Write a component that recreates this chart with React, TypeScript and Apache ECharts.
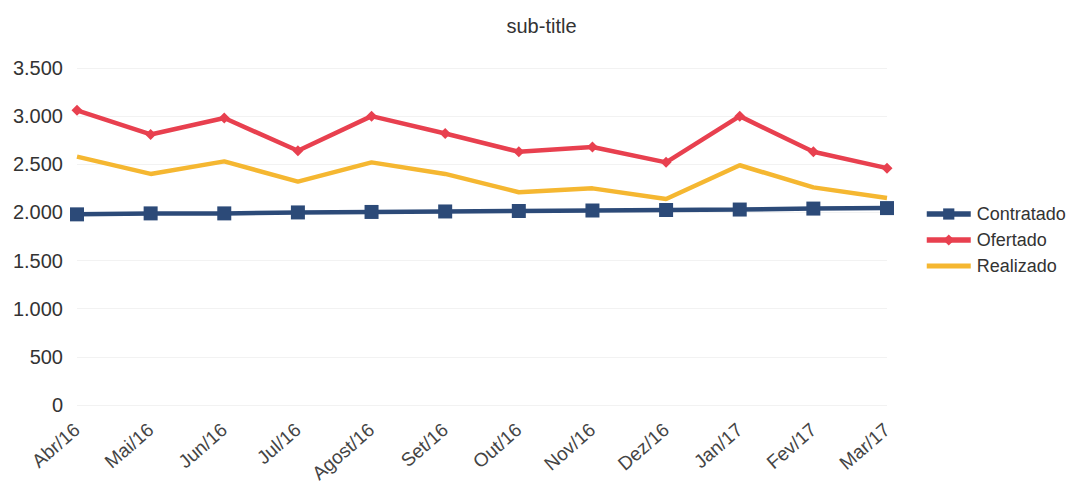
import React, { useEffect, useRef } from "react";
import * as echarts from "echarts";

const categories = ["Abr/16", "Mai/16", "Jun/16", "Jul/16", "Agost/16", "Set/16", "Out/16", "Nov/16", "Dez/16", "Jan/17", "Fev/17", "Mar/17"];
const contratado = [1980, 1990, 1990, 2000, 2005, 2010, 2015, 2020, 2025, 2030, 2040, 2045];
const ofertado = [3060, 2810, 2980, 2640, 3000, 2820, 2630, 2680, 2520, 3000, 2630, 2460];
const realizado = [2580, 2400, 2530, 2320, 2520, 2400, 2210, 2250, 2140, 2490, 2260, 2150];

const font = "'Liberation Sans', Arial, Helvetica, sans-serif";

export default function App() {
  const ref = useRef<HTMLDivElement>(null);
  useEffect(() => {
    document.body.style.margin = "0";
    const chart = echarts.init(ref.current!, undefined, { renderer: "svg" });
    chart.setOption({
      animation: false,
      backgroundColor: "#ffffff",
      textStyle: { fontFamily: font },
      title: {
        text: "sub-title",
        left: "center",
        top: 11,
        textStyle: { fontSize: 20, fontWeight: "normal", color: "#333", fontFamily: font },
      },
      grid: { left: 77, right: 196, top: 68, bottom: 81, containLabel: false },
      legend: {
        orient: "vertical",
        left: 919,
        top: 200,
        itemWidth: 44,
        itemHeight: 14,
        itemGap: 8,
        lineStyle: { width: 5.5 },
        textStyle: { fontSize: 18, color: "#333", fontFamily: font, padding: [0, 0, 0, 1] },
        data: [
          { name: "Contratado" },
          { name: "Ofertado" },
          { name: "Realizado", icon: "path://M0,0 L48,0 L48,5.5 L0,5.5 Z" },
        ],
      },
      xAxis: {
        type: "category",
        data: categories,
        boundaryGap: false,
        axisLine: { show: false },
        axisTick: { show: false },
        splitLine: { show: false },
        axisLabel: { rotate: 41, fontSize: 19, color: "#444", margin: 22, interval: 0, fontFamily: font },
      },
      yAxis: {
        type: "value",
        min: 0,
        max: 3500,
        interval: 500,
        axisLine: { show: false },
        axisTick: { show: false },
        splitLine: { lineStyle: { color: "#f2f2f2", width: 1 } },
        axisLabel: {
          fontSize: 20,
          color: "#333",
          margin: 14,
          fontFamily: font,
          formatter: (v: number) => (v >= 1000 ? Math.floor(v / 1000) + "." + String(v % 1000).padStart(3, "0") : String(v)),
        },
      },
      series: [
        {
          name: "Contratado",
          type: "line",
          data: contratado,
          symbol: "rect",
          symbolSize: 14,
          color: "#2c4a78",
          lineStyle: { width: 4.5, color: "#2c4a78" },
          itemStyle: { color: "#2c4a78" },
          z: 3,
        },
        {
          name: "Ofertado",
          type: "line",
          data: ofertado,
          symbol: "diamond",
          symbolSize: 11,
          color: "#e8404f",
          lineStyle: { width: 4.5, color: "#e8404f" },
          itemStyle: { color: "#e8404f" },
          z: 2,
        },
        {
          name: "Realizado",
          type: "line",
          data: realizado,
          symbol: "none",
          color: "#f5b731",
          lineStyle: { width: 4.5, color: "#f5b731" },
          itemStyle: { color: "#f5b731" },
          z: 1,
        },
      ],
    });
    return () => chart.dispose();
  }, []);
  return <div ref={ref} style={{ width: 1083, height: 486 }} />;
}
